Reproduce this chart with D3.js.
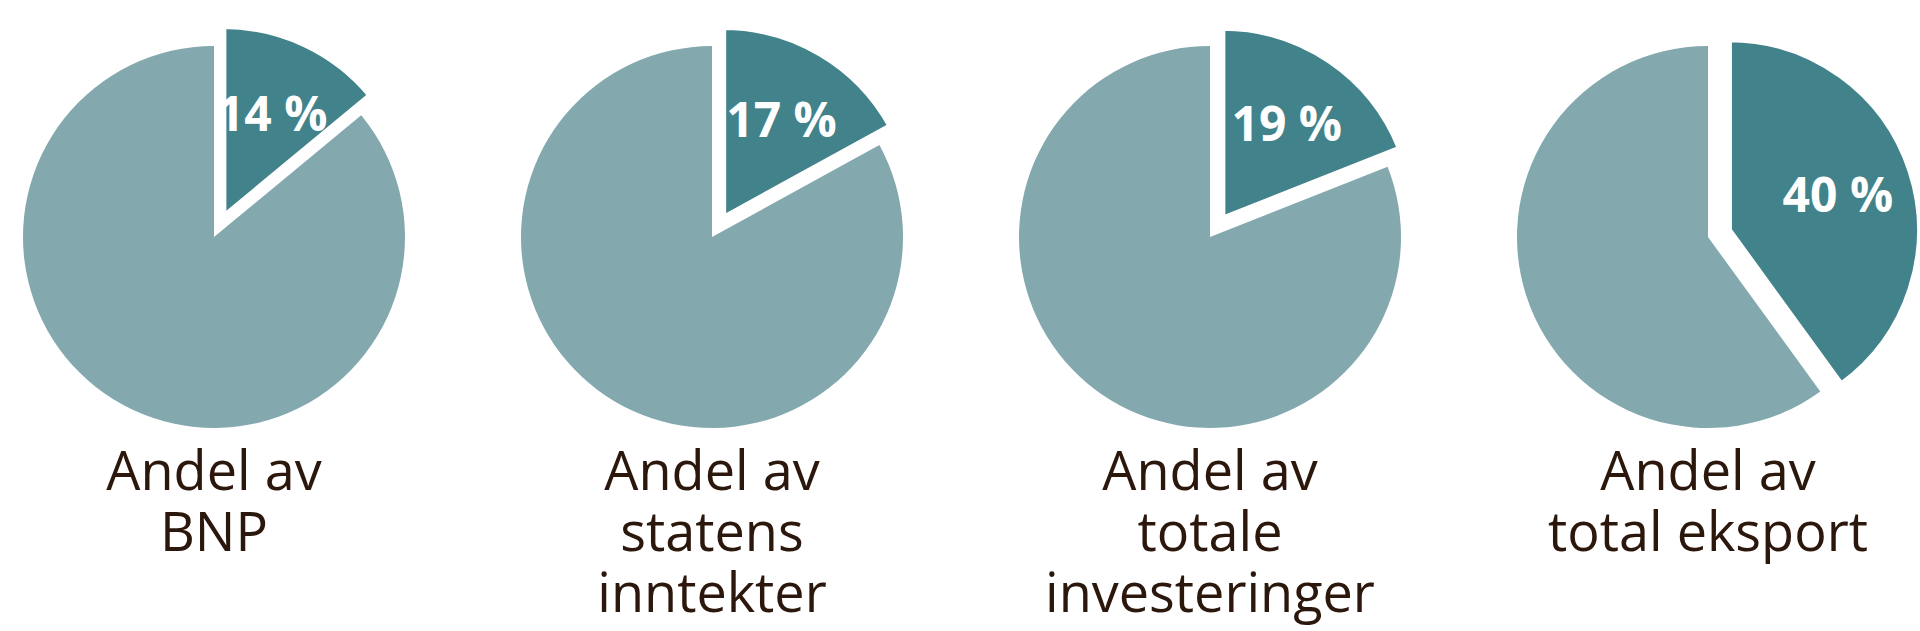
<!DOCTYPE html>
<html><head><meta charset="utf-8">
<script src="https://cdn.jsdelivr.net/npm/d3@7"></script>
<style>body{margin:0;background:#fff}</style>
</head><body><div id="chart"></div>
<script>
const width = 1920, height = 631;
const shares = [14, 17, 19, 40];
const labels = [["Andel av", "BNP"], ["Andel av", "statens", "inntekter"], ["Andel av", "totale", "investeringer"], ["Andel av", "total eksport"]];
const colors = ["#41828b", "#83a9af"];

const svg = d3.select("#chart").append("svg").attr("width", width).attr("height", height);
const x = d3.scalePoint().domain(d3.range(shares.length)).range([214, 1708]);
const r = 191, cy = 237, offset = 22;

const pie = d3.pie().sort(null).value(d => d);
const arc = d3.arc().innerRadius(0).outerRadius(r);

shares.forEach((s, i) => {
    const g = svg.append("g").attr("transform", `translate(${x(i)},${cy})`);
    const arcs = pie([s, 100 - s]);
    const a = arcs[0], mid = (a.startAngle + a.endAngle) / 2;
    const dx = Math.sin(mid) * offset, dy = -Math.cos(mid) * offset;
    g.append("path").attr("d", arc(arcs[1])).attr("fill", colors[1]);
    g.append("path").attr("d", arc(a)).attr("fill", colors[0])
        .attr("stroke", "#fff").attr("stroke-width", 6).attr("stroke-linejoin", "miter")
        .attr("transform", `translate(${dx},${dy})`);
    const lr = r * 0.6 + offset;
    g.append("text")
        .attr("x", Math.sin(mid) * lr).attr("y", -Math.cos(mid) * lr)
        .attr("dy", "0.36em").attr("text-anchor", "middle")
        .attr("font-family", "Open Sans, sans-serif").attr("font-weight", "bold")
        .attr("font-size", 48).attr("fill", "#fff")
        .text(s + " %");
    const t = svg.append("text").attr("text-anchor", "middle")
        .attr("font-family", "Open Sans, sans-serif").attr("font-size", 54).attr("fill", "#2b170c");
    labels[i].forEach((l, j) => {
        t.append("tspan").attr("x", x(i)).attr("y", 490 + j * 61).text(l);
    });
});
</script></body></html>
